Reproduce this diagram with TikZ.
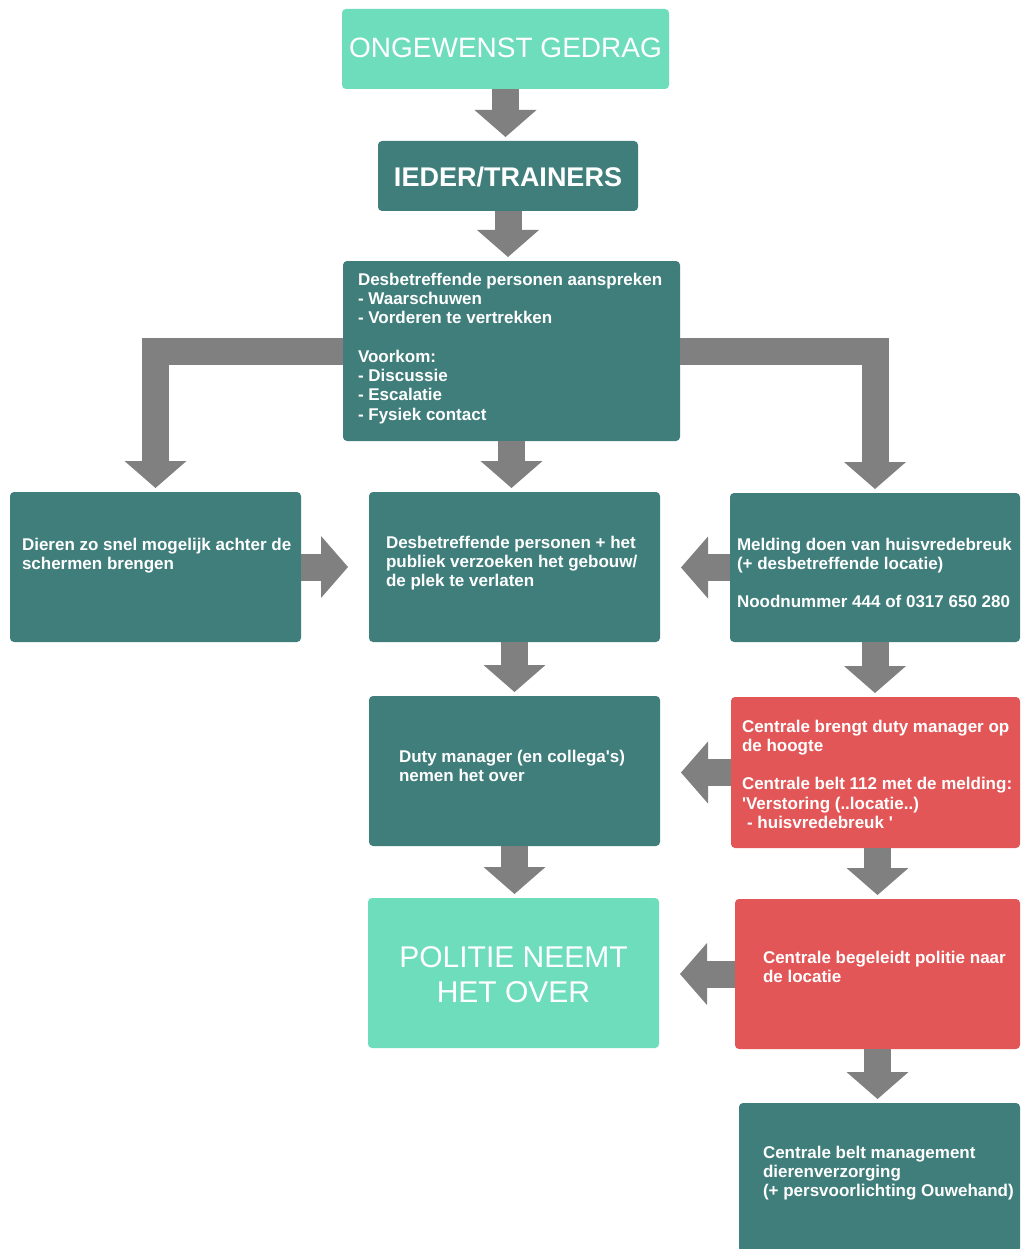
\documentclass[tikz,border=0pt]{standalone}
\usepackage{fontspec}
\usetikzlibrary{arrows.meta}
\newfontfamily\arialf{Liberation Sans}
\definecolor{mint}{HTML}{6EDDBC}
\definecolor{tealbg}{HTML}{3F7E7B}
\definecolor{redbg}{HTML}{E35657}
\definecolor{arrowgray}{HTML}{808080}
% #1 height, #2 width, #3 first baseline offset, #4 lines
\newcommand{\lbox}[4]{\parbox[c][#1][t]{#2}{\vspace*{\dimexpr#3-0.7\baselineskip\relax}\begin{tabular}[t]{@{}l@{}}#4\end{tabular}}}
\newcommand{\cbox}[4]{\parbox[c][#1][t]{#2}{\centering\vspace*{\dimexpr#3-0.7\baselineskip\relax}\begin{tabular}[t]{@{}c@{}}#4\end{tabular}}}
\tikzset{
  boxbase/.style={rounded corners=4pt, inner ysep=0pt, outer sep=0pt, text=white},
  smalltxt/.style={font=\arialf\bfseries\fontsize{17}{19.3}\selectfont},
  tealbox/.style={boxbase, fill=tealbg, smalltxt},
  redbox/.style={boxbase, fill=redbg, smalltxt},
  mintbox/.style={boxbase, fill=mint},
  flow/.style={draw=arrowgray, line width=27pt,
    -{Triangle[width=62pt,length=27pt,line width=0pt]}, shorten >=4pt},
  hflow/.style={flow, shorten >=21pt}
}
\begin{document}
\begin{tikzpicture}[x=1pt,y=-1pt]
\useasboundingbox (0,0) rectangle (1020,1249);
\fill[white] (0,0) rectangle (1020,1249);

\node[mintbox, inner xsep=0pt, font=\arialf\fontsize{28}{33}\selectfont] (gedrag) at (505.5,49)
  {\cbox{80pt}{327pt}{49pt}{ONGEWENST GEDRAG}};
\node[tealbox, inner xsep=0pt, font=\arialf\bfseries\fontsize{27}{32}\selectfont] (trainers) at (508,176)
  {\cbox{70pt}{260pt}{46pt}{IEDER/TRAINERS}};
\node[tealbox, inner xsep=15pt] (aanspreken) at (511.5,351)
  {\lbox{180pt}{307pt}{24pt}{Desbetreffende personen aanspreken\\- Waarschuwen\\- Vorderen te vertrekken\\ \\Voorkom:\\- Discussie\\- Escalatie\\- Fysiek contact}};
\node[tealbox, inner xsep=12pt] (dieren) at (155.5,567)
  {\lbox{150pt}{267pt}{58pt}{Dieren zo snel mogelijk achter de\\schermen brengen}};
\node[tealbox, inner xsep=17pt] (verlaten) at (514.5,567)
  {\lbox{150pt}{257pt}{56pt}{Desbetreffende personen + het\\publiek verzoeken het gebouw/\\de plek te verlaten}};
\node[tealbox, inner xsep=7pt] (melding) at (875,567.5)
  {\lbox{149pt}{276pt}{57pt}{Melding doen van huisvredebreuk\\(+ desbetreffende locatie)\\ \\Noodnummer 444 of 0317 650 280}};
\node[tealbox, inner xsep=30pt] (duty) at (514.5,771)
  {\lbox{150pt}{231pt}{66pt}{Duty manager (en collega's)\\nemen het over}};
\node[redbox, inner xsep=11pt] (centrale1) at (875.5,772.5)
  {\lbox{151pt}{267pt}{35pt}{Centrale brengt duty manager op\\de hoogte\\ \\Centrale belt 112 met de melding:\\'Verstoring (..locatie..)\\\hspace{0.3em}- huisvredebreuk '}};
\node[mintbox, inner xsep=0pt, font=\arialf\fontsize{30}{35}\selectfont] (politie) at (513.5,973)
  {\cbox{150pt}{291pt}{69pt}{POLITIE NEEMT\\HET OVER}};
\node[redbox, inner xsep=28pt] (centrale2) at (877.5,974)
  {\lbox{150pt}{229pt}{64pt}{Centrale begeleidt politie naar\\de locatie}};
\node[tealbox, inner xsep=24pt] (mgmt) at (879.5,1177.5)
  {\lbox{149pt}{233pt}{55pt}{Centrale belt management\\dierenverzorging\\(+ persvoorlichting Ouwehand)}};

\draw[flow] (gedrag.south) -- (gedrag.south |- trainers.north);
\draw[flow] (trainers.south) -- (trainers.south |- aanspreken.north);
\draw[flow] (aanspreken.south) -- (aanspreken.south |- verlaten.north);
\draw[flow] (aanspreken.west) -| (dieren.north);
\draw[flow] (aanspreken.east) -| (melding.north);
\draw[hflow] (dieren.east) -- (verlaten.west);
\draw[hflow] (melding.west) -- (melding.west -| verlaten.east);
\draw[flow] (verlaten.south) -- (verlaten.south |- duty.north);
\draw[flow] (melding.south) -- (melding.south |- centrale1.north);
\draw[hflow] (centrale1.west) -- (centrale1.west -| duty.east);
\draw[flow] (duty.south) -- (duty.south |- politie.north);
\draw[flow] (centrale2.north |- centrale1.south) -- (centrale2.north);
\draw[hflow] (centrale2.west) -- (centrale2.west -| politie.east);
\draw[flow] (centrale2.south) -- (centrale2.south |- mgmt.north);
\end{tikzpicture}
\end{document}
